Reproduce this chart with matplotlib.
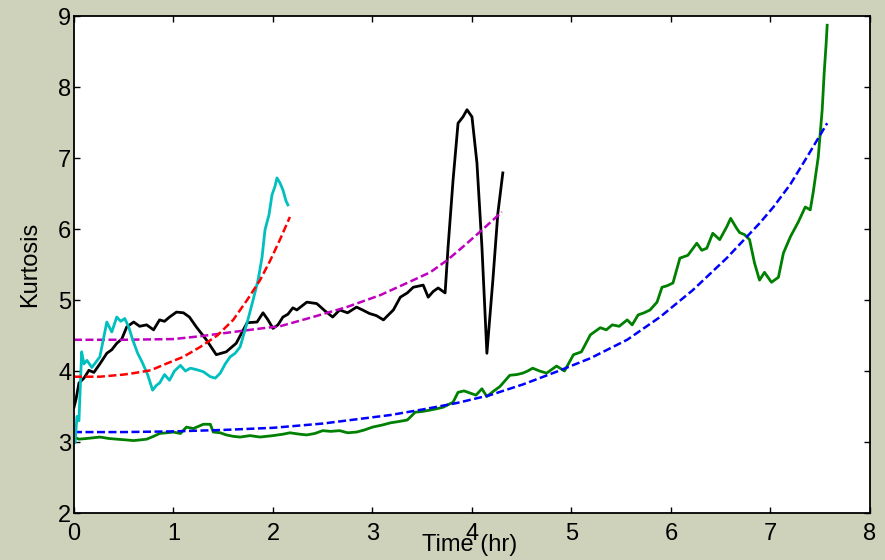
import numpy as np
import matplotlib
matplotlib.use("Agg")
import matplotlib.pyplot as plt

# DATA

cyan_t = [0.0, 0.01, 0.03, 0.05, 0.077, 0.10, 0.13, 0.18, 0.26, 0.33, 0.38, 0.43, 0.47, 0.51,
          0.55, 0.59, 0.64, 0.69, 0.74, 0.79, 0.83, 0.86, 0.91, 0.96, 1.01, 1.07, 1.12, 1.17,
          1.23, 1.30, 1.37, 1.42, 1.47, 1.52, 1.57, 1.62, 1.67, 1.74, 1.80, 1.85, 1.89, 1.92,
          1.96, 1.99, 2.02, 2.04, 2.07, 2.10, 2.13, 2.15]
cyan_k = [3.10, 2.99, 3.36, 3.30, 4.27, 4.10, 4.15, 4.05, 4.20, 4.69, 4.55, 4.76, 4.70, 4.74,
          4.62, 4.44, 4.25, 4.11, 3.95, 3.73, 3.80, 3.83, 3.95, 3.87, 4.00, 4.08, 4.00, 4.04,
          4.02, 3.99, 3.92, 3.90, 3.97, 4.10, 4.20, 4.25, 4.34, 4.68, 5.00, 5.28, 5.60, 5.99,
          6.20, 6.48, 6.60, 6.72, 6.65, 6.55, 6.40, 6.34]

black_t = [0.0, 0.02, 0.05, 0.10, 0.15, 0.20, 0.26, 0.33, 0.38, 0.43, 0.48, 0.53, 0.60, 0.66,
           0.73, 0.80, 0.86, 0.91, 0.96, 1.03, 1.10, 1.16, 1.23, 1.33, 1.43, 1.53, 1.63, 1.74,
           1.84, 1.90, 1.95, 2.00, 2.05, 2.10, 2.15, 2.20, 2.24, 2.34, 2.44, 2.52, 2.60, 2.67,
           2.75, 2.84, 2.90, 2.97, 3.04, 3.11, 3.21, 3.28, 3.35, 3.41, 3.51, 3.56, 3.61, 3.66,
           3.73, 3.76, 3.81, 3.86, 3.91, 3.95, 4.00, 4.05, 4.10, 4.15, 4.21, 4.26, 4.31]
black_k = [3.49, 3.60, 3.83, 3.90, 4.01, 3.98, 4.10, 4.25, 4.30, 4.39, 4.45, 4.62, 4.69, 4.63,
           4.65, 4.58, 4.72, 4.70, 4.76, 4.83, 4.82, 4.76, 4.62, 4.44, 4.23, 4.27, 4.39, 4.68,
           4.69, 4.82, 4.72, 4.60, 4.65, 4.76, 4.80, 4.89, 4.86, 4.97, 4.95, 4.85, 4.76, 4.86,
           4.82, 4.90, 4.86, 4.81, 4.78, 4.72, 4.86, 5.04, 5.10, 5.18, 5.21, 5.04, 5.12, 5.17,
           5.10, 5.75, 6.69, 7.49, 7.58, 7.68, 7.58, 6.93, 5.75, 4.25, 5.28, 6.22, 6.79]

green_t = [0.0, 0.05, 0.13, 0.26, 0.35, 0.43, 0.52, 0.60, 0.73, 0.80, 0.86, 0.93, 1.00, 1.07,
           1.13, 1.20, 1.30, 1.37, 1.40, 1.47, 1.53, 1.60, 1.67, 1.77, 1.87, 2.00, 2.10, 2.17,
           2.27, 2.34, 2.42, 2.50, 2.58, 2.67, 2.75, 2.84, 2.92, 3.00, 3.10, 3.18, 3.27, 3.35,
           3.43, 3.50, 3.58, 3.65, 3.71, 3.81, 3.86, 3.92, 3.98, 4.04, 4.10, 4.15, 4.22, 4.28,
           4.38, 4.45, 4.51, 4.56, 4.61, 4.68, 4.75, 4.80, 4.85, 4.93, 5.02, 5.10, 5.19, 5.29,
           5.35, 5.41, 5.48, 5.56, 5.61, 5.67, 5.73, 5.79, 5.86, 5.91, 5.96, 6.02, 6.09, 6.17,
           6.26, 6.31, 6.36, 6.42, 6.49, 6.56, 6.60, 6.66, 6.69, 6.74, 6.79, 6.84, 6.89, 6.94,
           7.01, 7.08, 7.13, 7.20, 7.28, 7.35, 7.40, 7.43, 7.48, 7.52, 7.54, 7.56, 7.57]
green_k = [3.07, 3.04, 3.05, 3.07, 3.05, 3.04, 3.03, 3.02, 3.04, 3.08, 3.12, 3.13, 3.14, 3.12,
           3.21, 3.19, 3.25, 3.25, 3.14, 3.13, 3.10, 3.08, 3.07, 3.09, 3.07, 3.09, 3.11, 3.13,
           3.11, 3.10, 3.12, 3.16, 3.15, 3.16, 3.13, 3.14, 3.17, 3.21, 3.24, 3.27, 3.29, 3.31,
           3.42, 3.43, 3.45, 3.47, 3.49, 3.56, 3.70, 3.72, 3.69, 3.66, 3.75, 3.64, 3.72, 3.78,
           3.94, 3.95, 3.97, 4.00, 4.04, 4.00, 3.97, 4.02, 4.07, 4.00, 4.23, 4.27, 4.51, 4.61,
           4.58, 4.65, 4.63, 4.72, 4.65, 4.79, 4.82, 4.86, 4.97, 5.18, 5.20, 5.24, 5.59, 5.63,
           5.80, 5.70, 5.73, 5.94, 5.85, 6.03, 6.15, 6.01, 5.95, 5.92, 5.85, 5.52, 5.28, 5.39,
           5.25, 5.32, 5.66, 5.89, 6.10, 6.31, 6.27, 6.52, 7.01, 7.68, 8.20, 8.62, 8.87]

blue_t = [0.0, 0.5, 1.0, 1.5, 2.0, 2.5, 2.84, 3.18, 3.51, 3.85, 4.18, 4.51, 4.85, 5.19,
          5.56, 5.89, 6.22, 6.56, 6.89, 7.03, 7.20, 7.37, 7.57]
blue_k = [3.14, 3.14, 3.15, 3.17, 3.20, 3.26, 3.32, 3.38, 3.46, 3.55, 3.66, 3.81, 3.99, 4.18,
          4.44, 4.76, 5.14, 5.59, 6.08, 6.31, 6.63, 7.02, 7.49]

red_t = [0.0, 0.26, 0.50, 0.60, 0.77, 0.94, 1.10, 1.27, 1.44, 1.60, 1.74, 1.87, 1.97, 2.07, 2.17]
red_k = [3.92, 3.92, 3.95, 3.97, 4.01, 4.11, 4.20, 4.34, 4.50, 4.72, 5.00, 5.28, 5.55, 5.85, 6.17]

magenta_t = [0.0, 0.5, 1.0, 1.27, 1.6, 1.94, 2.07, 2.40, 2.74, 3.08, 3.41, 3.58, 3.75, 3.91,
             4.08, 4.30]
magenta_k = [4.44, 4.44, 4.45, 4.49, 4.55, 4.61, 4.63, 4.76, 4.90, 5.07, 5.28, 5.39, 5.56,
             5.75, 5.96, 6.24]

x_ticks = [0, 1, 2, 3, 4, 5, 6, 7, 8]
y_ticks = [2, 3, 4, 5, 6, 7, 8, 9]

# PLOT

plt.rcParams["font.family"] = ["Liberation Sans", "DejaVu Sans"]

fig = plt.figure(figsize=(8.85, 5.6), dpi=100, facecolor="#ced2bb")
ax = fig.add_axes([0.0836, 0.0839, 0.8994, 0.8875])
ax.set_facecolor("white")

solid_lw = 2.0
dash_lw = 1.8
dash = (3.2, 1.4)

ax.plot(green_t, green_k, color="#008000", lw=solid_lw)
ax.plot(blue_t, blue_k, color="#0000ff", lw=dash_lw, dashes=dash)
ax.plot(black_t, black_k, color="black", lw=solid_lw)
ax.plot(magenta_t, magenta_k, color="#bf00bf", lw=dash_lw, dashes=dash)
ax.plot(cyan_t, cyan_k, color="#00bfbf", lw=solid_lw)
ax.plot(red_t, red_k, color="#ff0000", lw=dash_lw, dashes=dash)

ax.set_xlim(0, 8)
ax.set_ylim(2, 9)
ax.set_xticks(x_ticks)
ax.set_yticks(y_ticks)
ax.tick_params(direction="in", length=4, width=1, top=True, right=True,
               labelsize=17)
ax.tick_params(axis="x", pad=7)
ax.tick_params(axis="y", pad=2)
for s in ax.spines.values():
    s.set_linewidth(1.3)

ax.set_xlabel("Time (hr)", fontsize=17)
ax.set_ylabel("Kurtosis", fontsize=17)
ax.xaxis.set_label_coords(0.497, -0.064)
ax.xaxis.label.set_va("center")
ax.yaxis.set_label_coords(-0.055, 0.5)
ax.yaxis.label.set_va("center")

fig.savefig("out.png", dpi=100, facecolor=fig.get_facecolor())
